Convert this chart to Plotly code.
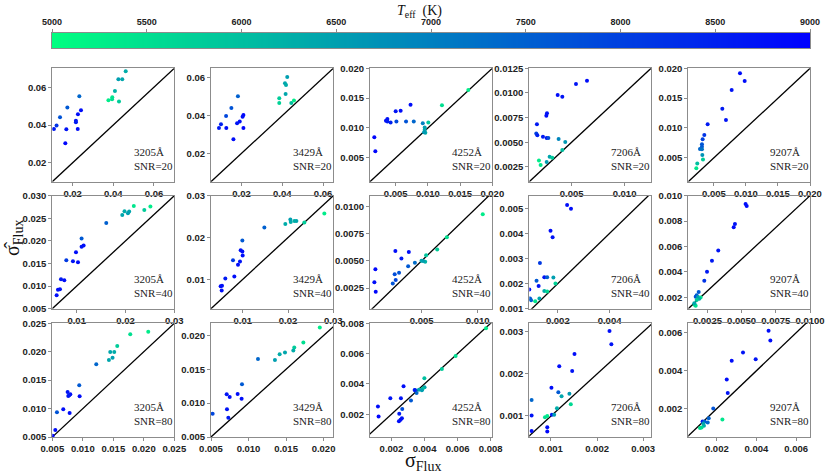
import numpy as np
import plotly.graph_objects as go

# ---------------- data ----------------
wavelengths = ["3205", "3429", "4252", "7206", "9207"]
snr_levels = [20, 40, 80]
cbar_ticks = [5000, 5500, 6000, 6500, 7000, 7500, 8000, 8500, 9000]

# SNR = 20
p1_x = [0.0461,0.0425,0.0444,0.0408,0.0395,0.0394,0.0376,0.0428,0.0233,0.0174,0.0138,0.0241,0.0226,0.0216,0.0216,0.0121,0.0108,0.0169,0.0225,0.0164]
p1_y = [0.0684,0.0642,0.0642,0.0580,0.0547,0.0536,0.0531,0.0524,0.0552,0.0492,0.0441,0.0478,0.0457,0.0423,0.0414,0.0398,0.0379,0.0377,0.0379,0.0303]
p1_t = [6300,6500,6400,6200,5400,5500,5300,5800,7400,7600,7700,8800,8800,8700,8600,8200,8600,8700,8800,8900]

p2_x = [0.0424,0.0413,0.0418,0.0416,0.0385,0.0385,0.0444,0.0457,0.0182,0.0150,0.0124,0.0099,0.0089,0.0125,0.0191,0.0178,0.0209,0.0205,0.0209,0.0160]
p2_y = [0.0604,0.0571,0.0562,0.0514,0.0491,0.0467,0.0467,0.0479,0.0502,0.0440,0.0398,0.0354,0.0334,0.0334,0.0369,0.0359,0.0403,0.0394,0.0334,0.0274]
p2_t = [6500,6400,6300,6400,5800,5700,6000,5300,7500,7700,7900,8500,8600,8800,8800,8700,8900,8800,8900,8800]

p3_x = [0.01627,0.01218,0.0073,0.00576,0.00499,0.0037,0.00348,0.0037,0.0042,0.0051,0.0066,0.0078,0.0092,0.01006,0.0095,0.0095,0.0096,0.0094,0.00167,0.00183]
p3_y = [0.01637,0.0138,0.0139,0.0129,0.0128,0.0115,0.0112,0.0111,0.0109,0.0111,0.0111,0.0111,0.0108,0.0109,0.0101,0.0097,0.0092,0.0093,0.00843,0.0061]
p3_t = [5300,5500,8800,8800,8700,8700,8800,8600,8500,7900,7700,7400,7000,5900,6500,6400,6300,6600,8900,8900]

p4_x = [0.00645,0.00541,0.00368,0.00412,0.00267,0.00261,0.00172,0.00166,0.00176,0.00229,0.00264,0.0028,0.00377,0.0044,0.00412,0.00292,0.00317,0.00191,0.00264,0.00207]
p4_y = [0.01124,0.0109,0.0098,0.00962,0.00793,0.0077,0.00682,0.0059,0.0057,0.00556,0.00543,0.00543,0.00533,0.00502,0.00421,0.00354,0.00343,0.00316,0.003,0.00269]
p4_t = [8800,8700,8800,8700,8700,8800,8600,8000,8500,8600,8700,7800,6900,6600,6000,6400,5800,5300,6500,5400]

p5_x = [0.00907,0.0098,0.00777,0.00631,0.00688,0.00402,0.0035,0.00324,0.00313,0.00313,0.00282,0.00313,0.00319,0.00329,0.0024,0.00225]
p5_y = [0.01916,0.01788,0.01637,0.01324,0.01134,0.01061,0.00882,0.0081,0.00726,0.00687,0.00648,0.00642,0.00547,0.00474,0.00407,0.00324]
p5_t = [8800,8800,8700,8600,8700,8600,8200,8000,7700,7600,7400,7200,6700,5800,6000,5400]

# SNR = 40
p6_x = [0.0251,0.0217,0.02385,0.0198,0.02075,0.0205,0.01934,0.01606,0.0110,0.01142,0.0110,0.00985,0.00787,0.00923,0.01026,0.00678,0.00746,0.00657,0.00616,0.00589]
p6_y = [0.02763,0.0277,0.02685,0.02655,0.02648,0.0261,0.02575,0.02398,0.02052,0.01897,0.01868,0.0175,0.01573,0.0155,0.01528,0.01152,0.0113,0.00931,0.00917,0.008]
p6_t = [5300,5400,5800,6300,6400,6500,6400,7500,7600,8800,8700,8800,8100,8700,8800,8600,8800,8700,8800,8800]

p7_x = [0.02802,0.02361,0.0206,0.02052,0.02141,0.02185,0.01941,0.01478,0.00992,0.00955,0.00992,0.00999,0.00786,0.0094,0.00896,0.00815,0.00616,0.00543,0.00513,0.00536]
p7_y = [0.02577,0.02357,0.02373,0.02429,0.02397,0.02397,0.02325,0.02238,0.01928,0.01697,0.01666,0.01571,0.0146,0.01428,0.01348,0.0107,0.01022,0.00847,0.00839,0.00736]
p7_t = [5300,5800,6300,6500,6200,6400,6300,7500,7600,8700,8800,8800,8100,8700,8800,8800,8600,8700,8800,8800]

p8_x = [0.01045,0.00725,0.00639,0.0054,0.00532,0.00499,0.00514,0.0044,0.0038,0.00386,0.00266,0.0032,0.00299,0.0026,0.00269,0.00243,0.00088,0.00079,0.00091]
p8_y = [0.00929,0.00717,0.00606,0.00551,0.00493,0.00502,0.00499,0.00484,0.0045,0.00582,0.00591,0.00521,0.00392,0.00376,0.00324,0.00293,0.00422,0.00303,0.00217]
p8_t = [5300,5500,5800,5900,6200,6400,6500,7300,7600,8800,8800,8600,7700,7800,7900,7700,8900,8800,8900]

p9_x = [0.00236,0.00251,0.00172,0.0018,0.00131,0.00148,0.00159,0.00118,0.00126,0.00183,0.00191,0.00148,0.00159,0.00129,0.00113,0.00093,0.00097,0.0009]
p9_y = [0.00513,0.00498,0.0041,0.00385,0.00282,0.00225,0.00225,0.00211,0.0019,0.00224,0.002,0.0017,0.00168,0.00141,0.0013,0.00141,0.00134,0.00176]
p9_t = [8800,8800,8800,8700,8100,8700,7500,7600,8700,6500,5700,6300,5600,6400,5400,7600,7500,8800]

p10_x = [0.00529,0.00537,0.00451,0.00442,0.00329,0.00283,0.00247,0.00227,0.00186,0.00171,0.00164,0.00181,0.0020,0.0019,0.00171,0.00156,0.00164,0.00154]
p10_y = [0.00934,0.00918,0.00777,0.00751,0.00569,0.00488,0.00401,0.0033,0.00241,0.00215,0.00204,0.00202,0.00199,0.00189,0.00178,0.00142,0.00134,0.00152]
p10_t = [8800,8800,8700,8800,8700,8600,8600,8200,7600,7500,7700,6500,5400,6300,5800,5300,5500,6400]

# SNR = 80
p11_x = [0.02073,0.01778,0.01565,0.01516,0.0145,0.01488,0.01428,0.01221,0.00942,0.00948,0.00751,0.00795,0.00762,0.00778,0.0068,0.00784,0.00576,0.00549,0.00505]
p11_y = [0.0235,0.02306,0.02101,0.01995,0.01995,0.01896,0.01856,0.0178,0.0141,0.01216,0.01292,0.01251,0.01222,0.01234,0.00988,0.00923,0.00934,0.00623,0.00523]
p11_t = [5300,5500,5800,6300,6400,6500,6400,7400,7600,8800,8700,8800,8700,8600,8800,8800,7700,8800,8900]

p12_x = [0.0195,0.01731,0.0161,0.01597,0.01486,0.01415,0.01352,0.01126,0.00913,0.00908,0.00855,0.00709,0.00749,0.00713,0.00731,0.00522]
p12_y = [0.02117,0.01897,0.01822,0.01777,0.01747,0.01723,0.01639,0.01654,0.01279,0.01067,0.01136,0.01131,0.01092,0.00909,0.00786,0.00845]
p12_t = [5300,5500,5800,6300,6400,6300,6500,7400,7600,8800,8800,8700,8800,8700,8600,7900]

p13_x = [0.00772,0.00588,0.00505,0.00399,0.004,0.00388,0.00366,0.00384,0.00344,0.00352,0.0034,0.00318,0.00273,0.00257,0.00193,0.00265,0.00247,0.00263,0.00255,0.00245,0.00118,0.00122]
p13_y = [0.00767,0.00585,0.00499,0.00437,0.00378,0.00369,0.00362,0.00358,0.00358,0.0034,0.0036,0.0029,0.00385,0.00306,0.00306,0.00234,0.00203,0.00174,0.00163,0.00154,0.00251,0.00185]
p13_t = [5300,5500,5800,6000,6400,5900,6400,6500,7600,7400,8600,7600,8800,8700,8700,7800,8600,8700,8800,8800,8800,8900]

p14_x = [0.00227,0.00231,0.00151,0.00118,0.00146,0.00101,0.00116,0.0014,0.00123,0.00058,0.00143,0.00113,0.00102,0.00107,0.00092,0.00087,0.00058,0.00092,0.00092,0.00058]
p14_y = [0.00302,0.0027,0.00247,0.00218,0.00207,0.00167,0.00156,0.00153,0.00147,0.00138,0.00128,0.00118,0.00103,0.00103,0.001,0.00097,0.00101,0.00073,0.00063,0.00064]
p14_t = [8800,8700,8800,8800,8700,8800,7600,6600,6400,7400,5600,6300,8600,6500,5300,5500,8700,8800,8900,8800]

p15_x = [0.00461,0.0047,0.00332,0.00275,0.00396,0.0025,0.00255,0.00182,0.00228,0.00159,0.00154,0.00128,0.00138,0.00132,0.00135,0.00123,0.00115]
p15_y = [0.00611,0.00559,0.00496,0.00453,0.0046,0.00354,0.00282,0.002,0.00142,0.00149,0.00126,0.00132,0.00132,0.00121,0.00109,0.001,0.00097]
p15_t = [8800,8800,8700,8800,8700,8800,8700,7700,5400,7500,7400,8600,7600,6500,6300,5600,5500]

panels = [
    (p1_x, p1_y, p1_t), (p2_x, p2_y, p2_t), (p3_x, p3_y, p3_t), (p4_x, p4_y, p4_t), (p5_x, p5_y, p5_t),
    (p6_x, p6_y, p6_t), (p7_x, p7_y, p7_t), (p8_x, p8_y, p8_t), (p9_x, p9_y, p9_t), (p10_x, p10_y, p10_t),
    (p11_x, p11_y, p11_t), (p12_x, p12_y, p12_t), (p13_x, p13_y, p13_t), (p14_x, p14_y, p14_t), (p15_x, p15_y, p15_t),
]

# ---------------- axes configuration ----------------
x_ranges = [
    [0.01, 0.07], [0.005, 0.065], [0.001, 0.020], [0.001, 0.0125], [0.001, 0.020],
    [0.005, 0.030], [0.003, 0.030], [0.0004, 0.0113], [0.0009, 0.0056], [0.0011, 0.0100],
    [0.005, 0.025], [0.005, 0.0213], [0.0007, 0.0081], [0.00053, 0.00317], [0.00056, 0.0067],
]
y_ranges = [
    [0.01, 0.07], [0.005, 0.065], [0.001, 0.020], [0.001, 0.0125], [0.001, 0.020],
    [0.005, 0.030], [0.003, 0.030], [0.0006, 0.011], [0.001, 0.0055], [0.0011, 0.0100],
    [0.005, 0.025], [0.005, 0.0218], [0.0005, 0.008], [0.0005, 0.0032], [0.0005, 0.0065],
]
x_ticks = [
    (0.02, 2), (0.02, 2), (0.005, 3), (0.005, 3), (0.005, 3),
    (0.01, 2), (0.01, 2), (0.005, 3), (0.002, 3), (0.0025, 4),
    (0.005, 3), (0.005, 3), (0.002, 3), (0.001, 3), (0.002, 3),
]
y_ticks = [
    (0.02, 2), (0.02, 2), (0.005, 3), (0.0025, 4), (0.005, 3),
    (0.005, 3), (0.01, 2), (0.0025, 4), (0.001, 3), (0.002, 3),
    (0.005, 3), (0.005, 3), (0.002, 3), (0.001, 3), (0.002, 3),
]

W, H = 831, 474
col_px = [(52.3, 174.3), (211.0, 333.3), (370.0, 492.3), (529.3, 651.0), (688.3, 810.0)]
row_px = [(68.3, 181.7), (195.7, 308.7), (323.3, 437.0)]

colorscale = [[0.0, "rgb(0,255,128)"], [1.0, "rgb(0,0,255)"]]
FRAME = "#8c8c8c"
tickfont = dict(family="Liberation Sans", size=9.5, color="#222222", weight="bold")


def tick_list(rng, step, nd):
    lo = int(np.ceil(rng[0] / step - 1e-6))
    hi = int(np.floor(rng[1] / step + 1e-6))
    vals = [round(k * step, 8) for k in range(lo, hi + 1)]
    return vals, [f"{v:.{nd}f}" for v in vals]


fig = go.Figure()
layout = {}
annotations = []

for i, (px, py, pt) in enumerate(panels):
    r, c = divmod(i, 5)
    k = i + 1
    xa = "x" if k == 1 else f"x{k}"
    ya = "y" if k == 1 else f"y{k}"
    xr, yr = x_ranges[i], y_ranges[i]
    lo, hi = min(xr[0], yr[0]), max(xr[1], yr[1])

    fig.add_trace(go.Scatter(x=[lo, hi], y=[lo, hi], mode="lines",
                             line=dict(color="black", width=1.3),
                             xaxis=xa, yaxis=ya, showlegend=False, hoverinfo="skip"))
    fig.add_trace(go.Scatter(x=px, y=py, mode="markers",
                             marker=dict(size=4, color=pt, colorscale=colorscale,
                                         cmin=5000, cmax=9000, line=dict(width=0)),
                             xaxis=xa, yaxis=ya, showlegend=False))

    xv, xt = tick_list(xr, *x_ticks[i])
    yv, yt = tick_list(yr, *y_ticks[i])
    eps_x = (xr[1] - xr[0]) * 1e-6
    eps_y = (yr[1] - yr[0]) * 1e-6
    common = dict(showline=True, mirror=True, linecolor=FRAME, linewidth=1,
                  ticks="outside", ticklen=3, tickcolor=FRAME, showgrid=False,
                  zeroline=False, tickfont=tickfont, automargin=False)
    layout["xaxis" if k == 1 else f"xaxis{k}"] = dict(
        domain=[col_px[c][0] / W, col_px[c][1] / W], anchor=ya,
        range=[xr[0] - eps_x, xr[1] + eps_x], tickvals=xv, ticktext=xt, **common)
    layout["yaxis" if k == 1 else f"yaxis{k}"] = dict(
        domain=[1 - row_px[r][1] / H, 1 - row_px[r][0] / H], anchor=xa,
        range=[yr[0] - eps_y, yr[1] + eps_y], tickvals=yv, ticktext=yt, **common)

    annotations.append(dict(
        text=f"{wavelengths[c]}Å<br>SNR={snr_levels[r]}",
        xref=f"{xa} domain", yref=f"{ya} domain", x=0.655, y=0.07,
        xanchor="left", yanchor="bottom", align="left", showarrow=False,
        font=dict(family="Liberation Serif", size=11, color="#222222")))

# ---------------- colour bar (drawn as a heatmap on its own axis) ----------------
grid = np.linspace(cbar_ticks[0], cbar_ticks[-1], 301)
fig.add_trace(go.Heatmap(x=grid, y=[0], z=[grid], colorscale=colorscale,
                         zmin=5000, zmax=9000, showscale=False,
                         xaxis="x16", yaxis="y16", hoverinfo="skip"))
layout["xaxis16"] = dict(domain=[52 / W, 810 / W], anchor="y16", side="top",
                         range=[cbar_ticks[0], cbar_ticks[-1]], tickvals=cbar_ticks,
                         ticktext=[str(v) for v in cbar_ticks],
                         showline=True, mirror=True, linecolor=FRAME, linewidth=1,
                         ticks="outside", ticklen=3, tickcolor=FRAME, showgrid=False,
                         zeroline=False, automargin=False,
                         tickfont=dict(family="Liberation Sans", size=9, color="#222222", weight="bold"))
layout["yaxis16"] = dict(domain=[1 - 48 / H, 1 - 33 / H], anchor="x16", range=[-0.5, 0.5],
                         showticklabels=False, ticks="", showline=True, mirror=True,
                         linecolor=FRAME, linewidth=1, showgrid=False, zeroline=False,
                         automargin=False)

annotations.append(dict(text="<i>T</i><sub>eff</sub>  (K)", xref="paper", yref="paper",
                        x=0.505, y=1 - 11 / H, xanchor="center", yanchor="middle",
                        showarrow=False, font=dict(family="Liberation Serif", size=14, color="#111111")))
annotations.append(dict(text="σ<sub>Flux</sub>", xref="paper", yref="paper",
                        x=423 / W, y=1 - 461 / H, xanchor="center", yanchor="middle",
                        showarrow=False, font=dict(family="Liberation Serif", size=20, color="#111111")))
annotations.append(dict(text="σ\u0302<sub>Flux</sub>", xref="paper", yref="paper",
                        x=13 / W, y=1 - 238 / H, xanchor="center", yanchor="middle",
                        textangle=-90, showarrow=False,
                        font=dict(family="Liberation Serif", size=20, color="#111111")))

fig.update_layout(width=W, height=H, autosize=False,
                  margin=dict(l=0, r=0, t=0, b=0, autoexpand=False),
                  paper_bgcolor="white", plot_bgcolor="white",
                  annotations=annotations, **layout)

fig.write_html("out.html", config={"displayModeBar": False},
               post_script="document.body.style.margin='0px';document.body.style.overflow='hidden';")
